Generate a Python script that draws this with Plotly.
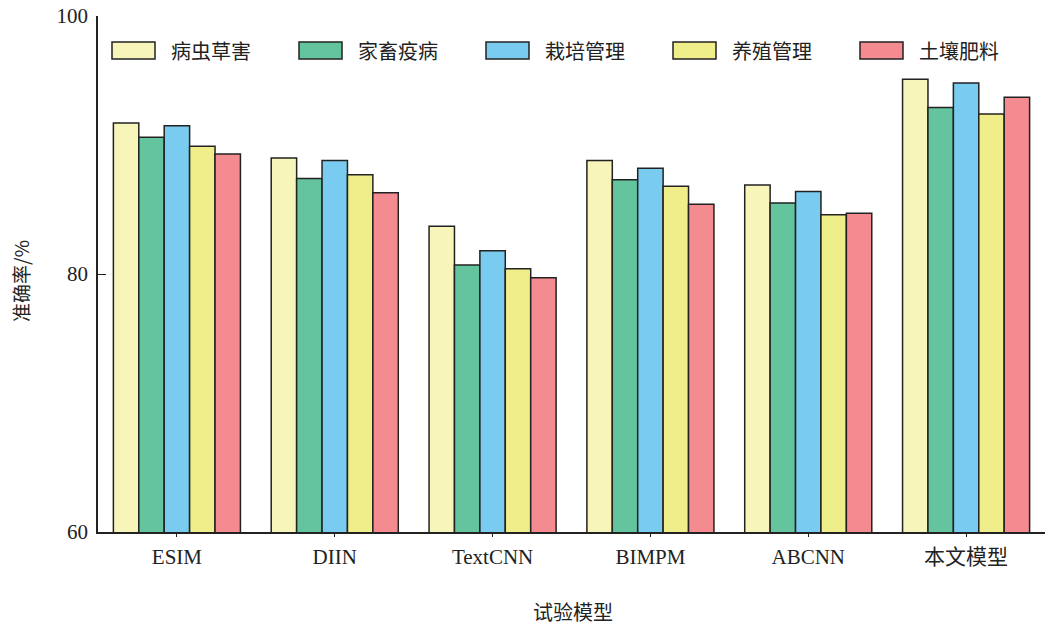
import plotly.graph_objects as go

categories = ["ESIM", "DIIN", "TextCNN", "BIMPM", "ABCNN", "本文模型"]
series_names = ["病虫草害", "家畜疫病", "栽培管理", "养殖管理", "土壤肥料"]
pest = [91.7, 89.0, 83.7, 88.8, 86.9, 95.1]
livestock = [90.6, 87.4, 80.7, 87.3, 85.5, 92.9]
cultivation = [91.5, 88.8, 81.8, 88.2, 86.4, 94.8]
breeding = [89.9, 87.7, 80.4, 86.8, 84.6, 92.4]
soil = [89.3, 86.3, 79.7, 85.4, 84.7, 93.7]
series_values = [pest, livestock, cultivation, breeding, soil]
colors = ["#F7F5B9", "#64C49E", "#79CBEF", "#F0EE8A", "#F38B90"]
y_ticks = [60, 80, 100]

serif = "Liberation Serif, Times New Roman, serif"
cjk = "Noto Sans CJK SC, sans-serif"

fig = go.Figure()
for name, vals, col in zip(series_names, series_values, colors):
    fig.add_trace(go.Bar(
        x=categories, y=vals, name=name,
        marker=dict(color=col, line=dict(color="#222222", width=1.5)),
        showlegend=False,
    ))

W, H = 1048, 627
plot_l, plot_r, plot_t, plot_b = 98, 1045, 16, 532  # page pixels
ml, mt = plot_l, plot_t
mr, mb = W - plot_r, H - plot_b
pw, ph = plot_r - plot_l, plot_b - plot_t


def px(x):
    return (x - plot_l) / pw


def py(y):
    return 1 - (y - plot_t) / ph


shapes = []
annotations = []
for i, (name, col) in enumerate(zip(series_names, colors)):
    x0 = 112 + i * 187
    shapes.append(dict(type="rect", xref="paper", yref="paper",
                       x0=px(x0), x1=px(x0 + 43), y0=py(59), y1=py(42),
                       fillcolor=col, line=dict(color="#222222", width=1.5)))
    annotations.append(dict(xref="paper", yref="paper", x=px(x0 + 57), y=py(50.5),
                            text=name, showarrow=False, xanchor="left", yanchor="middle",
                            font=dict(family=cjk, size=20, color="#222222")))

annotations.append(dict(xref="paper", yref="paper", x=px(573), y=py(611),
                        text="试验模型", showarrow=False, xanchor="center", yanchor="middle",
                        font=dict(family=cjk, size=20, color="#222222")))
annotations.append(dict(xref="paper", yref="paper", x=px(20), y=py(281),
                        text="准确率/%", showarrow=False, xanchor="center", yanchor="middle",
                        textangle=-90, font=dict(family=cjk, size=19, color="#222222")))

fig.update_layout(
    width=W, height=H,
    margin=dict(l=ml, r=mr, t=mt, b=mb, pad=0),
    paper_bgcolor="white", plot_bgcolor="white",
    barmode="group", bargap=0.195, bargroupgap=0,
    shapes=shapes, annotations=annotations,
    font=dict(family=serif, size=19, color="#222222"),
)
fig.update_xaxes(
    range=[-0.5, 5.5], showline=True, linecolor="#222222", linewidth=1.5,
    ticks="outside", ticklen=3, tickcolor="#222222", showgrid=False,
    tickfont=dict(family=serif + ", " + cjk, size=21), ticklabelstandoff=2,
)
fig.update_yaxes(
    range=[60, 100], tickvals=y_ticks, showline=True, linecolor="#222222", linewidth=1.5,
    ticks="inside", ticklen=8, tickcolor="#222222", showgrid=False, zeroline=False,
    tickfont=dict(family=serif, size=21), ticklabelstandoff=4,
)

fig.write_html("out.html", config={"displayModeBar": False},
               post_script="document.body.style.margin='0px';")
